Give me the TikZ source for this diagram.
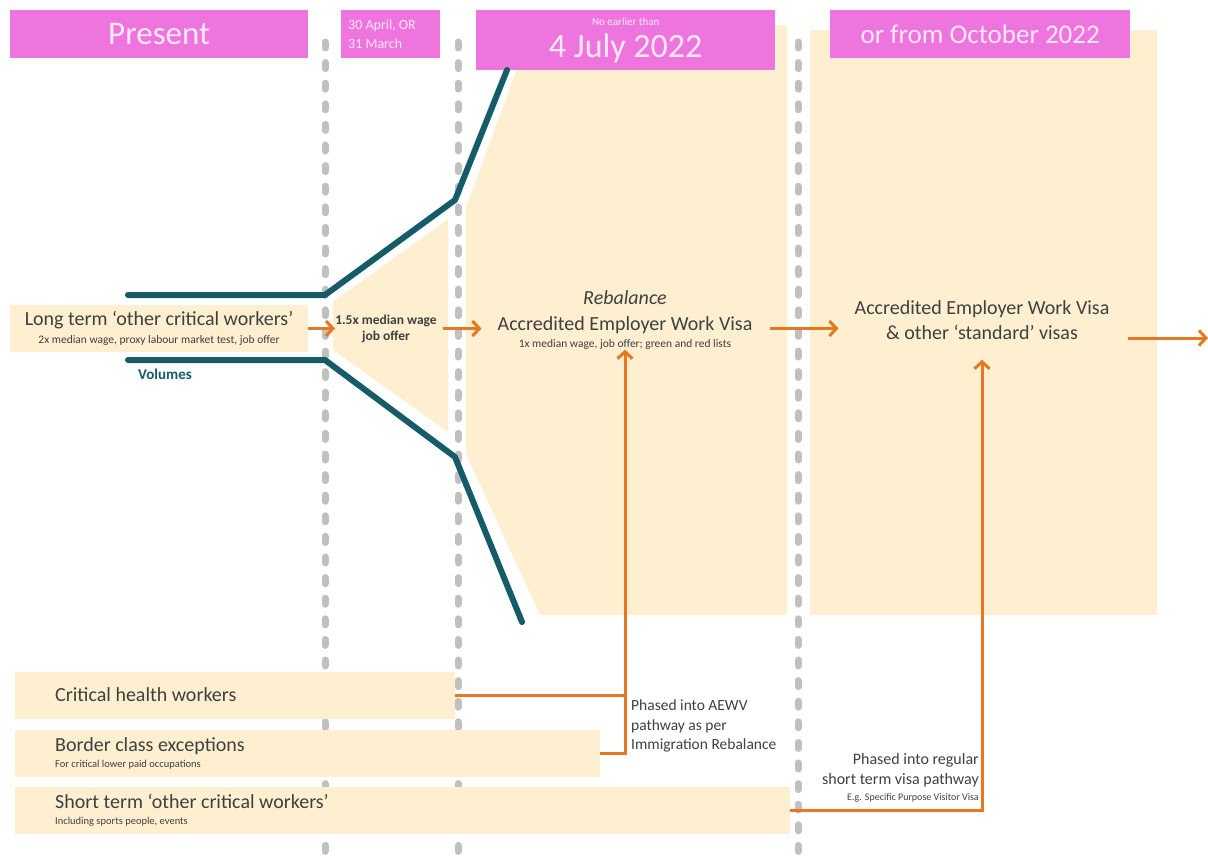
\documentclass[tikz,border=0pt]{standalone}
\usepackage{fontspec}
\setmainfont{Carlito}
\usepackage{xcolor}
\usetikzlibrary{arrows.meta, positioning}
\definecolor{datepink}{RGB}{239,117,222}
\definecolor{datetext}{RGB}{253,232,249}
\definecolor{sand}{RGB}{253,239,207}
\definecolor{volteal}{RGB}{22,92,104}
\definecolor{phaseorange}{RGB}{232,119,34}
\definecolor{dividergray}{RGB}{192,192,192}
\definecolor{ink}{RGB}{64,64,64}
\newcommand{\fsz}[2]{\fontsize{#1}{#2}\selectfont}

\begin{document}
\begin{tikzpicture}[
            x=1pt, y=-1pt,
            date/.style={fill=datepink, text=datetext, inner sep=0pt, anchor=north west},
            band/.style={fill=sand, text=ink, anchor=west, inner xsep=40pt, inner ysep=0pt,
                minimum height=47pt, align=flush left, text width=#1, font=\fsz{20}{24}},
            txt/.style={text=ink, inner sep=0pt},
            divider/.style={draw=dividergray, line width=7pt, line cap=round, dash pattern=on 6pt off 14.6pt},
            volume/.style={draw=volteal, line width=6pt, line cap=round, line join=round},
            phaseline/.style={draw=phaseorange, line width=3pt},
            flow/.style={phaseline, ->},
            >={Straight Barb[length=7pt, width=15pt]}
        ]
        \useasboundingbox[fill=white] (0,0) rectangle (1208,859);

        % time dividers
        \foreach \x in {325, 458, 798}
            \draw[divider] (\x,42) -- (\x,859);

        \coordinate (u0) at (128,295);
        \coordinate (u1) at (325,295);
        \coordinate (u2) at (455,200);
        \coordinate (u3) at (507,70);

        \coordinate (l0) at (128,360);
        \coordinate (l1) at (325,360);
        \coordinate (l2) at (455,457);
        \coordinate (l3) at (522,622);

        \coordinate (exit) at (1208,338);

        % shaded pathways
        \fill[sand] (333,302) -- (448,219) -- (448,432) -- (333,350) -- cycle;
        \fill[sand] (466,207) -- (516,72) -- (516,25) -- (787,25) -- (787,615)
            -- (540,615) -- (466,454) -- cycle;
        \fill[sand] (810,30) rectangle (1157,615);

        % dates
        \node[date, minimum width=298pt, minimum height=48pt, font=\fsz{33}{36}] (present) at (10,10) {Present};
        \node[date, minimum width=99pt, minimum height=48pt, inner xsep=7pt, text width=85pt,
            align=flush left, font=\fsz{14}{19}] (april) at (341,10) {30 April, OR\\31 March};
        \node[date, minimum width=299pt, minimum height=60pt, align=center, font=\fsz{34}{36}] (july) at (476,10)
            {{\fsz{11}{13}No earlier than}\\[-4pt]4 July 2022};
        \node[date, minimum width=300pt, minimum height=48pt, font=\fsz{27}{30}] (october) at (830,10) {or from October 2022};

        % volumes
        \draw[volume] (u0) -- (u1) -- (u2) -- (u3);
        \draw[volume] (l0) -- (l1) -- (l2) -- (l3);
        \node[txt, text=volteal, font=\bfseries\fsz{15}{18}] (volumes) at (165,374) {Volumes};

        % visas
        \node[fill=sand, text=ink, inner sep=0pt, minimum width=298pt, minimum height=47pt, align=center,
            font=\fsz{20}{24}] (longterm) at (159,328.5)
            {Long term ‘other critical workers’\\[-6pt]{\fsz{11.5}{13}2x median wage, proxy labour market test, job offer}};
        \node[txt, align=center, font=\bfseries\fsz{13.5}{16}] (mid) at (386,328.5) {1.5x median wage\\job offer};
        \node[txt, align=center, font=\fsz{20}{26}] (aewv) at (625,320)
            {\textit{Rebalance}\\Accredited Employer Work Visa\\[-9pt]{\fsz{11.5}{13}1x median wage, job offer; green and red lists}};
        \node[txt, align=center, font=\fsz{20}{25}] (standard) at (982,320)
            {Accredited Employer Work Visa\\\&~other ‘standard’ visas};

        \node[band=360pt] (health) at (15,695) {Critical health workers};
        \node[band=505pt] (border) at (15,753)
            {Border class exceptions\\[-8pt]{\fsz{10.5}{12}For critical lower paid occupations}};
        \node[band=695pt] (short) at (15,810)
            {Short term ‘other critical workers’\\[-8pt]{\fsz{10.5}{12}Including sports people, events}};

        \node[txt, anchor=west, align=left, font=\fsz{15.5}{19.5}] (phaseA) at (631,726)
            {Phased into AEWV\\pathway as per\\Immigration Rebalance};
        \node[txt, anchor=east, align=right, font=\fsz{16}{19.5}] (phaseB) at (979,778)
            {Phased into regular\\short term visa pathway\\[-3pt]{\fsz{10}{12}E.g. Specific Purpose Visitor Visa}};

        % flows
        \draw[flow] (longterm.east) -- (longterm.east -| mid.west);
        \draw[flow, shorten <=6pt, shorten >=16pt] (mid.east) -- (mid.east -| aewv.west);
        \draw[flow, shorten <=17pt, shorten >=16pt] (aewv.east |- mid.east) -- (standard.west |- mid.east);
        \draw[flow, shorten <=18pt] (standard.east |- exit) -- (exit);

        \draw[phaseline] (health.east) -- (health.east -| aewv.south);
        \draw[flow] (border.east) -| (aewv.south);
        \draw[flow, shorten >=20pt] (short.east) -| (standard.south);
    \end{tikzpicture}
\end{document}
